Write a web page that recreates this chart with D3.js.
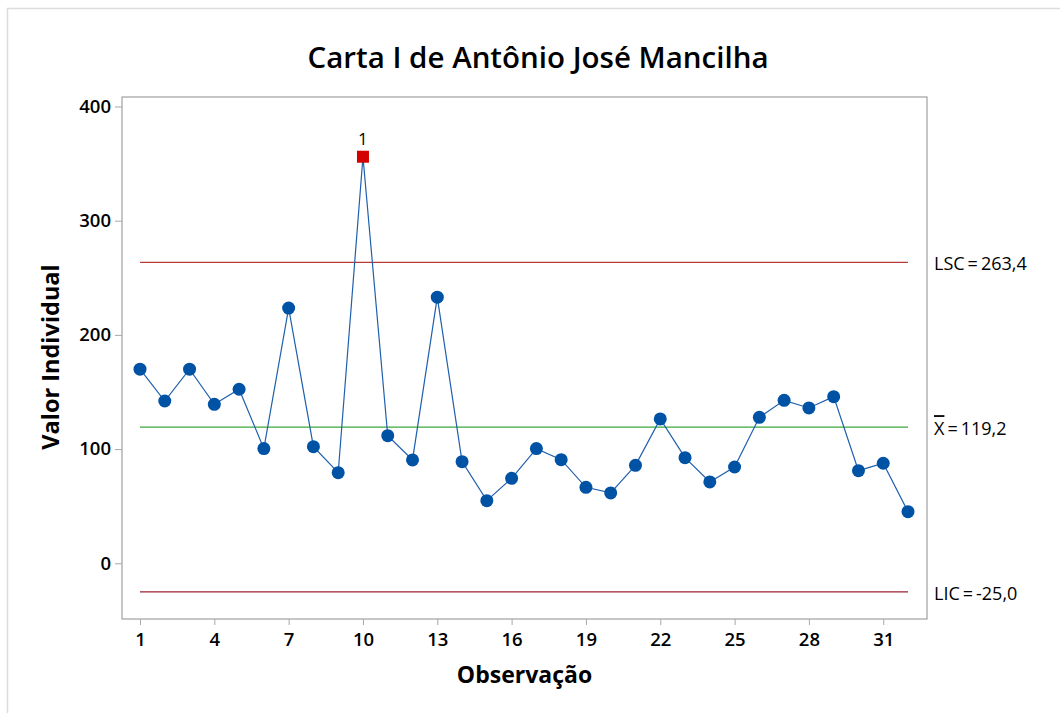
<!DOCTYPE html>
<html><head><meta charset="utf-8">
<script src="https://cdn.jsdelivr.net/npm/d3@7/dist/d3.min.js"></script>
<style>body{margin:0;background:#fff}svg{display:block}text{font-family:"Open Sans","Noto Sans",sans-serif;fill:#000}</style>
</head><body><svg id="c" width="1060" height="713"></svg>
<script>
const observations = d3.range(1, 33);
const values = [170,142.1,170,139.2,152.4,100.4,223.5,102.1,79.3,356,111.7,90.5,233,89,54.8,74.4,100.4,90.7,66.5,61.6,85.8,126.4,92.5,71.2,84.3,127.8,142.7,136,145.9,81.1,87.6,45.2];
const outOfControl = [10];
const xTicks = [1,4,7,10,13,16,19,22,25,28,31];
const yTicks = [0,100,200,300,400];
const limits = [
  {name:"LSC", value:263.4, label:"263,4", color:"#b83a3a"},
  {name:"X", value:119.2, label:"119,2", color:"#3aa83a"},
  {name:"LIC", value:-25.0, label:"-25,0", color:"#9a2230"}
];
const title = "Carta I de Antônio José Mancilha";
const xTitle = "Observação";
const yTitle = "Valor Individual";

const svg = d3.select("#c");
const L=122, R=927, T=97, B=619;
const x = d3.scaleLinear().domain([0.2734, 32.767]).range([L, R]);
const y = d3.scaleLinear().domain([-48.8, 408.3]).range([B, T]);

// outer frame
svg.append("rect").attr("x",7.5).attr("y",8.5).attr("width",1080).attr("height",720)
  .attr("fill","none").attr("stroke","#dcdcdc").attr("stroke-width",1.5);

// title
svg.append("text").attr("x",538).attr("y",68).attr("text-anchor","middle")
  .style("font-size","29.5px").style("font-weight",600).text(title);

// plot border
svg.append("rect").attr("x",L).attr("y",T).attr("width",R-L).attr("height",B-T)
  .attr("fill","none").attr("stroke","#a8a8a8").attr("stroke-width",1.3);

// axes
const xAxis = d3.axisBottom(x).tickValues(xTicks).tickSize(6).tickPadding(5).tickSizeOuter(0);
const gx = svg.append("g").attr("transform",`translate(0,${B})`).call(xAxis);
const yAxis = d3.axisLeft(y).tickValues(yTicks).tickSize(7).tickPadding(4).tickSizeOuter(0);
const gy = svg.append("g").attr("transform",`translate(${L},0)`).call(yAxis);
[gx,gy].forEach(g=>{
  g.select(".domain").remove();
  g.selectAll(".tick line").attr("stroke","#a8a8a8");
  g.selectAll(".tick text").style("font-size","18.5px").style("font-weight",600)
    .style("font-family",'"Open Sans",sans-serif').attr("fill","#000");
});
gx.selectAll(".tick text").attr("dy","0.85em");

// axis titles
svg.append("text").attr("x",(L+R)/2).attr("y",683).attr("text-anchor","middle")
  .style("font-size","23px").style("font-weight",700).text(xTitle);
svg.append("text").attr("transform",`translate(59,357) rotate(-90)`).attr("text-anchor","middle")
  .style("font-size","23.5px").style("font-weight",700).text(yTitle);

// control lines
limits.forEach(l=>{
  svg.append("line").attr("x1",x(1)).attr("x2",x(32)).attr("y1",y(l.value)).attr("y2",y(l.value))
    .attr("stroke",l.color).attr("stroke-width",1.3);
  const t = svg.append("text").attr("x",934).attr("y",y(l.value)+8).style("font-size","18px");
  if(l.name==="X"){
    t.append("tspan").style("text-decoration","overline").text("X");
  } else {
    t.append("tspan").text(l.name);
  }
  t.append("tspan").text("\u2009=\u2009" + l.label);
});

// data line
const data = observations.map((o,i)=>({o, v:values[i]}));
svg.append("path").datum(data).attr("fill","none").attr("stroke","#1f5fae").attr("stroke-width",1.2)
  .attr("d", d3.line().x(d=>x(d.o)).y(d=>y(d.v)));

svg.selectAll("circle.pt").data(data.filter(d=>!outOfControl.includes(d.o))).enter().append("circle")
  .attr("class","pt").attr("cx",d=>x(d.o)).attr("cy",d=>y(d.v)).attr("r",6.5).attr("fill","#0052a5");

const ooc = data.filter(d=>outOfControl.includes(d.o));
svg.selectAll("rect.ooc").data(ooc).enter().append("rect").attr("class","ooc")
  .attr("x",d=>x(d.o)-6).attr("y",d=>y(d.v)-6).attr("width",12).attr("height",12).attr("fill","#d40000");
svg.selectAll("text.ooc").data(ooc).enter().append("text").attr("class","ooc")
  .attr("x",d=>x(d.o)).attr("y",d=>y(d.v)-12).attr("text-anchor","middle").style("font-size","17px").text("1");
</script></body></html>
